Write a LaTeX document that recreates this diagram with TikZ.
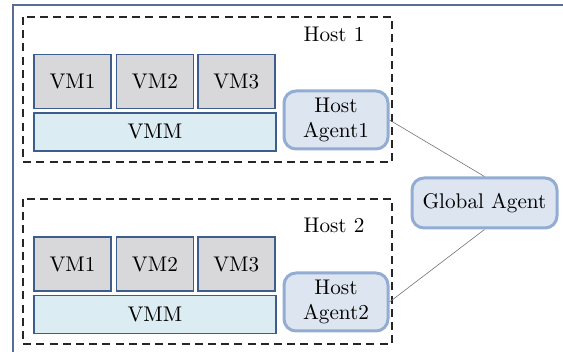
\documentclass[tikz,border=0pt]{standalone}
\usetikzlibrary{positioning}

\definecolor{vmgray}{RGB}{216,216,219}
\definecolor{vmline}{RGB}{62,92,140}
\definecolor{vmmfill}{RGB}{219,236,243}
\definecolor{agentfill}{RGB}{220,229,240}
\definecolor{agentline}{RGB}{146,172,211}
\definecolor{framecol}{RGB}{88,108,148}

\tikzset{
	vmbox/.style={draw=vmline, fill=vmgray, line width=0.7pt, minimum width=38.5pt, minimum height=27pt, inner sep=0pt},
	vmmbox/.style={draw=vmline, fill=vmmfill, line width=0.7pt, minimum width=121pt, minimum height=19pt, inner sep=0pt},
	agent/.style={draw=agentline, fill=agentfill, line width=1.5pt, rounded corners=6pt, align=center, inner sep=0pt},
	hostbox/.style={draw=black!85, line width=0.8pt, dash pattern=on 4pt off 2.6pt},
	link/.style={draw=black!55, line width=0.3pt}
}

\begin{document}
\begin{tikzpicture}[x=0.5pt, y=-0.5pt, font=\fontsize{10.6}{12.5}\selectfont]

	\useasboundingbox (0,0) rectangle (563,352);

	%frame on the left and top
	\draw[framecol, line width=0.6pt] (13,352) -- (13,5) -- (563,5);

	%host 1
	\draw[hostbox] (23,17) rectangle (392,162);
	\node (hostA) at (334,34) {Host 1};
	\node[vmbox] (vmA1) at (72.5,81.5) {VM1};
	\node[vmbox, right=2pt of vmA1] (vmA2) {VM2};
	\node[vmbox, right=1.5pt of vmA2] (vmA3) {VM3};
	\node[vmmbox, below=1.5pt of vmA2] (vmmA) {VMM};
	\node[agent, minimum width=52pt, minimum height=29pt] (agentA) at (336,120) {Host\\Agent1};

	%host 2
	\draw[hostbox] (23,199) rectangle (392,344);
	\node (hostB) at (334,225) {Host 2};
	\node[vmbox] (vmB1) at (72.5,264) {VM1};
	\node[vmbox, right=2pt of vmB1] (vmB2) {VM2};
	\node[vmbox, right=1.5pt of vmB2] (vmB3) {VM3};
	\node[vmmbox, below=1.5pt of vmB2] (vmmB) {VMM};
	\node[agent, minimum width=52pt, minimum height=29pt] (agentB) at (336,302) {Host\\Agent2};

	%global agent and its links
	\node[agent, minimum width=72.5pt, minimum height=25pt] (global) at (484.5,203) {Global Agent};
	\draw[link] (agentA.east) -- (global.north);
	\draw[link] (agentB.east) -- (global.south);

\end{tikzpicture}
\end{document}
